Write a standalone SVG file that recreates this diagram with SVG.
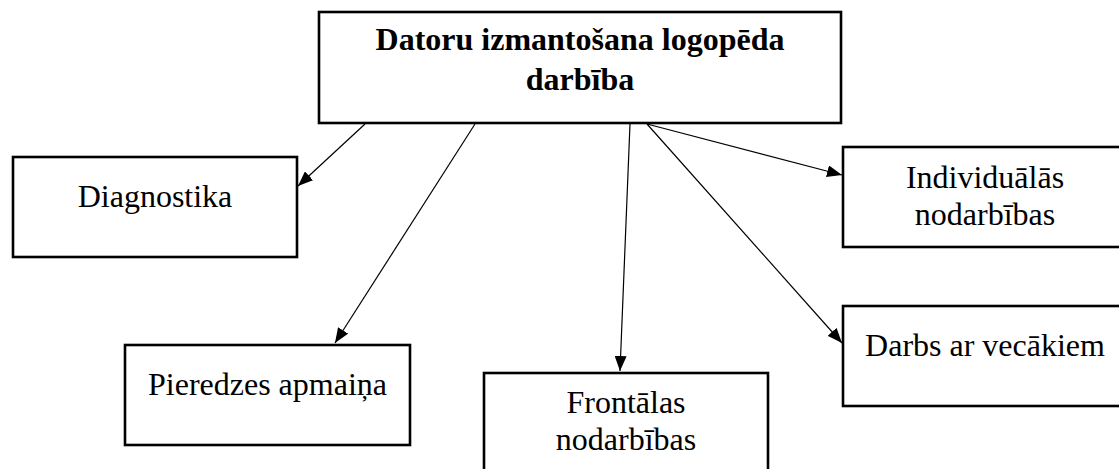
<svg xmlns="http://www.w3.org/2000/svg" width="1119" height="469" viewBox="0 0 1119 469">
<style>
.box{fill:#fff;stroke:#000;stroke-width:2.6}
.t{font-family:"Liberation Serif","Times New Roman",serif;font-size:32px;fill:#000;text-anchor:middle}
.b{font-weight:bold}
.c{stroke:#000;stroke-width:1.2;fill:none;marker-end:url(#ah)}
</style>
<defs>
<marker id="ah" markerUnits="userSpaceOnUse" markerWidth="16" markerHeight="12" refX="15" refY="6" orient="auto">
<path d="M0,0 L15,6 L0,12 z" fill="#000"/>
</marker>
</defs>
<rect width="1119" height="469" fill="#fff"/>
<g id="connectors">
<line class="c" x1="365" y1="124" x2="298" y2="186"/>
<line class="c" x1="475" y1="124" x2="335" y2="343"/>
<line class="c" x1="630" y1="124" x2="620" y2="371"/>
<line class="c" x1="647" y1="124" x2="842" y2="175"/>
<line class="c" x1="647" y1="124" x2="842" y2="343"/>
</g>
<g id="main">
<rect class="box" x="319" y="12" width="522" height="111"/>
<text class="t b" x="580" y="50">Datoru izmantošana logopēda</text>
<text class="t b" x="580" y="90">darbība</text>
</g>
<g id="diagnostika">
<rect class="box" x="13" y="157" width="284" height="100"/>
<text class="t" x="155" y="207">Diagnostika</text>
</g>
<g id="individualas">
<rect class="box" x="843" y="147" width="290" height="100"/>
<text class="t" x="985" y="188">Individuālās</text>
<text class="t" x="985" y="225">nodarbības</text>
</g>
<g id="darbs">
<rect class="box" x="843" y="306" width="290" height="100"/>
<text class="t" x="985" y="356">Darbs ar vecākiem</text>
</g>
<g id="pieredzes">
<rect class="box" x="125" y="345" width="285" height="100"/>
<text class="t" x="267.5" y="395">Pieredzes apmaiņa</text>
</g>
<g id="frontalas">
<rect class="box" x="484" y="373" width="284" height="110"/>
<text class="t" x="626" y="413">Frontālas</text>
<text class="t" x="626" y="450">nodarbības</text>
</g>
</svg>
